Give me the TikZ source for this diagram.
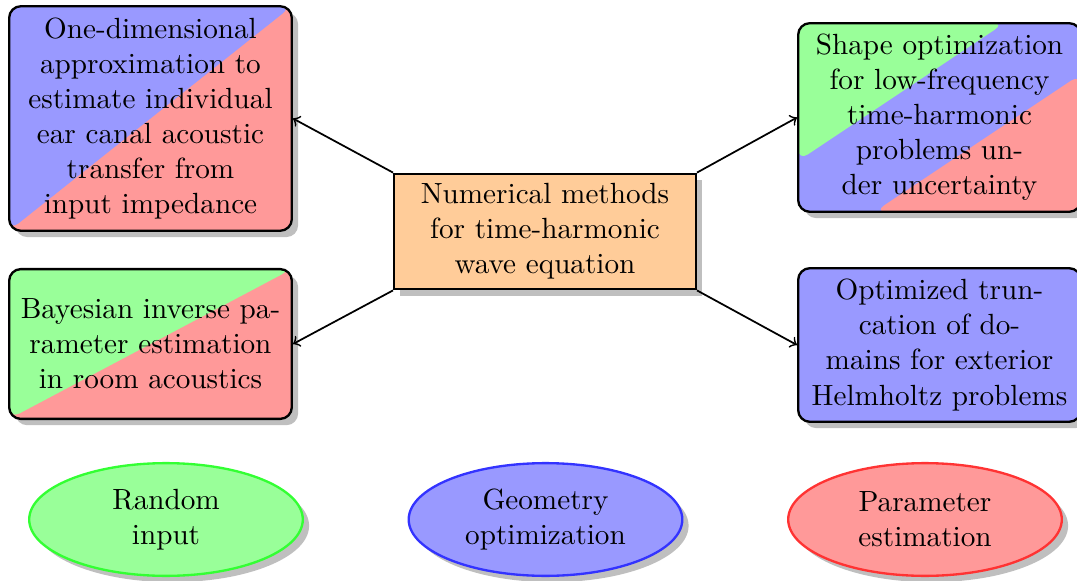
\documentclass[tikz,border=0pt]{standalone}
\usetikzlibrary{shapes.geometric,shadows,calc}
\tikzset{
  split2/.style 2 args={path picture={
    \fill[#2] (path picture bounding box.south west) rectangle (path picture bounding box.north east);
    \fill[#1] (path picture bounding box.south west) -- (path picture bounding box.north west) -- (path picture bounding box.north east) -- cycle;}},
  split3/.style={path picture={
    \fill[blue!40] (path picture bounding box.south west) rectangle (path picture bounding box.north east);
    \fill[green!40] (path picture bounding box.north west) -- ($(path picture bounding box.north west)!0.73!(path picture bounding box.north east)$) -- ($(path picture bounding box.north west)!0.73!(path picture bounding box.south west)$) -- cycle;
    \fill[red!40] (path picture bounding box.south east) -- ($(path picture bounding box.south east)!0.73!(path picture bounding box.south west)$) -- ($(path picture bounding box.south east)!0.73!(path picture bounding box.north east)$) -- cycle;}},
  box/.style={draw,thick,rounded corners=4pt,align=center,drop shadow,minimum width=96.8pt},
  mid/.style={draw,thick,fill=orange!40,align=center,drop shadow,minimum width=103.3pt,minimum height=39.3pt},
  oval/.style={ellipse,thick,align=center,inner sep=0pt,minimum width=93.7pt,minimum height=38.6pt,drop shadow},
  link/.style={->,semithick}
}
\begin{document}
\begin{tikzpicture}[x=0.34247pt,y=-0.34247pt]
\useasboundingbox (0,0) rectangle (1077,581);
\node[box,split2={blue!40}{red!40},minimum height=76.9pt] (b1) at (150.5,118.5) {One-dimensional\\approximation to\\estimate individual\\ear canal acoustic\\transfer from\\input impedance};
\node[box,split2={green!40}{red!40},minimum height=51.3pt] (b2) at (150.5,344) {Bayesian inverse pa-\\rameter estimation\\in room acoustics};
\node[box,split3,minimum height=64.6pt] (b3) at (939.5,117.5) {Shape optimization\\for low-frequency\\time-harmonic\\problems un-\\der uncertainty};
\node[box,fill=blue!40,minimum height=52.6pt] (b4) at (939.5,345) {Optimized trun-\\cation of do-\\mains for exterior\\Helmholtz problems};
\node[mid] (c) at (545,231.5) {Numerical methods\\for time-harmonic\\wave equation};
\draw[link] (c.north west) -- (b1.east);
\draw[link] (c.south west) -- (b2.east);
\draw[link] (c.north east) -- (b3.west);
\draw[link] (c.south east) -- (b4.west);
\node[oval,draw=green!80,fill=green!40] (e1) at (166,519.5) {Random\\input};
\node[oval,draw=blue!80,fill=blue!40] (e2) at (545.5,519.5) {Geometry\\optimization};
\node[oval,draw=red!80,fill=red!40] (e3) at (925,519.5) {Parameter\\estimation};
\end{tikzpicture}
\end{document}
